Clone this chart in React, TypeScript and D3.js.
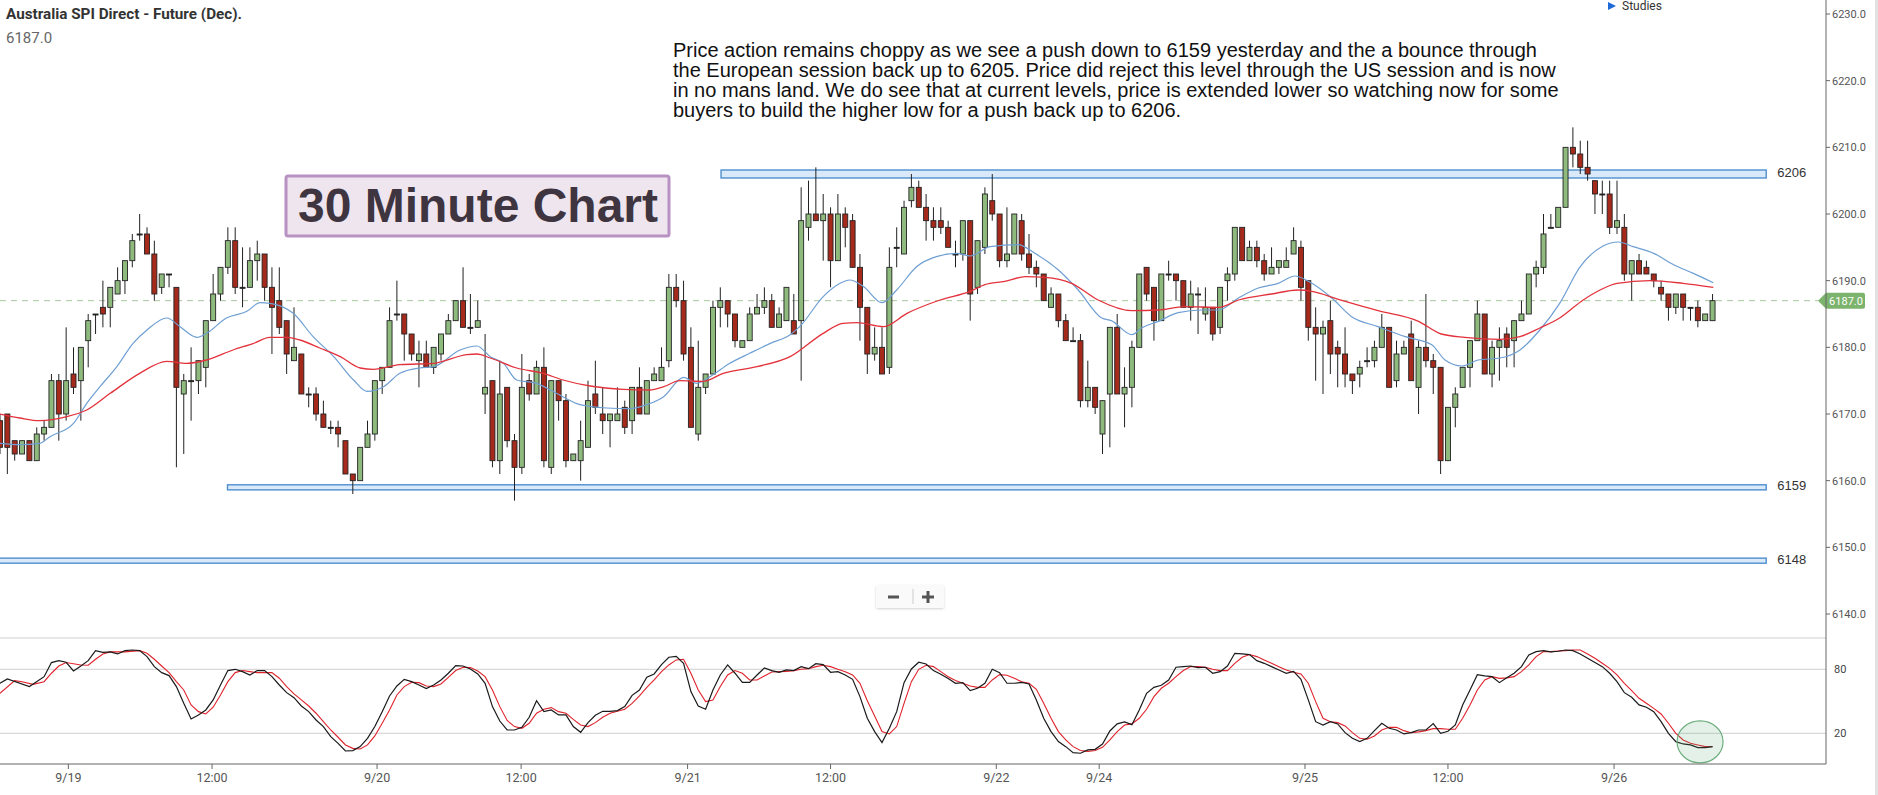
import React from "react";
import * as d3 from "d3";

// ---------- DATA ----------
const opens = [6169,6170,6166,6164,6166,6163,6167,6168,6175,6170,6176,6175,6181,6185,6186,6186,6188,6190,6193,6197,6197,6194,6189,6191,6189,6173,6175,6175,6177,6184,6188,6192,6196,6189,6189,6193,6194,6189,6187,6184,6178,6179,6173,6173,6170,6168,6168,6166,6161,6160,6165,6167,6175,6177,6185,6185,6182,6178,6179,6177,6179,6182,6184,6187,6183,6183,6173,6175,6163,6174,6166,6162,6175,6173,6177,6162,6175,6172,6163,6163,6165,6173,6170,6169,6169,6171,6169,6174,6170,6175,6175,6178,6189,6187,6180,6167,6174,6176,6186,6187,6185,6180,6181,6185,6186,6187,6183,6184,6184,6184,6198,6200,6199,6200,6193,6200,6199,6192,6186,6179,6180,6177,6195,6194,6202,6204,6201,6199,6199,6198,6194,6194,6199,6189,6195,6202,6200,6193,6194,6199,6194,6192,6191,6186,6188,6184,6181,6181,6172,6174,6167,6173,6183,6173,6174,6180,6192,6189,6184,6191,6191,6190,6186,6188,6185,6186,6183,6190,6191,6198,6193,6195,6193,6191,6192,6192,6194,6195,6190,6183,6182,6184,6180,6179,6176,6176,6178,6178,6180,6183,6175,6179,6182,6174,6180,6178,6177,6163,6171,6174,6177,6181,6185,6176,6180,6182,6181,6184,6185,6191,6192,6198,6198,6201,6210,6209,6207,6205,6203,6203,6198,6198,6191,6193,6192,6191,6189,6188,6186,6188,6186,6186,6184,6184];
const highs = [6170,6170,6166,6166,6166,6168,6169,6176,6176,6183,6180,6180,6185,6185,6190,6189,6192,6193,6197,6200,6198,6196,6191,6191,6189,6176,6180,6178,6184,6191,6192,6198,6198,6195,6195,6196,6194,6192,6192,6184,6186,6179,6174,6174,6172,6169,6169,6166,6161,6165,6169,6175,6177,6186,6190,6185,6182,6181,6181,6180,6182,6185,6187,6192,6188,6187,6182,6175,6178,6174,6167,6179,6176,6178,6180,6175,6175,6173,6164,6169,6175,6178,6174,6170,6174,6172,6174,6177,6175,6177,6180,6191,6191,6190,6183,6181,6176,6187,6189,6187,6185,6181,6186,6188,6189,6188,6186,6189,6188,6204,6205,6207,6203,6201,6203,6201,6200,6194,6186,6183,6183,6195,6198,6202,6206,6205,6203,6201,6201,6199,6196,6199,6199,6196,6204,6206,6200,6201,6200,6200,6197,6193,6191,6189,6188,6185,6183,6182,6178,6174,6172,6183,6185,6177,6181,6191,6192,6189,6191,6193,6191,6190,6190,6189,6189,6186,6189,6192,6198,6198,6196,6196,6194,6195,6193,6195,6198,6196,6190,6186,6184,6187,6181,6183,6176,6178,6180,6181,6185,6183,6181,6181,6184,6181,6188,6179,6177,6171,6174,6177,6181,6187,6185,6181,6183,6183,6184,6187,6191,6193,6200,6200,6201,6210,6213,6211,6211,6205,6205,6205,6205,6200,6193,6194,6193,6191,6190,6188,6188,6188,6186,6187,6185,6188];
const lows = [6164,6161,6163,6164,6163,6163,6166,6168,6166,6169,6173,6169,6177,6182,6183,6183,6188,6188,6192,6196,6194,6187,6188,6189,6162,6164,6169,6173,6174,6184,6187,6191,6188,6186,6189,6190,6187,6179,6182,6176,6178,6173,6171,6169,6168,6167,6165,6161,6158,6160,6165,6166,6173,6177,6184,6178,6178,6174,6177,6176,6178,6182,6184,6183,6182,6183,6170,6162,6161,6165,6157,6161,6172,6173,6162,6161,6169,6162,6163,6160,6165,6170,6167,6165,6169,6167,6167,6170,6170,6175,6175,6177,6186,6178,6168,6166,6173,6176,6183,6183,6180,6180,6181,6185,6185,6183,6183,6184,6182,6175,6196,6199,6193,6189,6193,6195,6192,6181,6176,6178,6176,6176,6192,6194,6201,6201,6196,6196,6197,6195,6192,6193,6184,6188,6194,6199,6192,6192,6194,6193,6191,6189,6187,6186,6183,6181,6181,6171,6171,6170,6164,6165,6173,6168,6171,6180,6187,6181,6184,6190,6187,6186,6184,6182,6184,6181,6182,6187,6190,6193,6193,6192,6190,6191,6191,6192,6194,6187,6181,6175,6173,6176,6174,6174,6173,6174,6177,6177,6180,6174,6174,6179,6175,6170,6177,6173,6161,6163,6168,6174,6174,6181,6176,6174,6175,6177,6177,6184,6185,6189,6191,6198,6198,6201,6207,6206,6205,6200,6200,6197,6197,6190,6187,6191,6191,6189,6187,6184,6185,6184,6184,6183,6184,6184];
const closes = [6165,6165,6164,6166,6163,6167,6168,6175,6170,6175,6174,6180,6184,6185,6185,6189,6190,6193,6196,6197,6194,6188,6191,6191,6174,6175,6175,6178,6184,6188,6192,6196,6189,6189,6193,6194,6189,6186,6183,6179,6180,6173,6173,6170,6168,6168,6167,6161,6160,6165,6167,6175,6177,6184,6185,6182,6179,6179,6177,6180,6182,6184,6187,6183,6183,6184,6174,6163,6173,6166,6162,6174,6173,6177,6163,6175,6172,6163,6164,6166,6172,6171,6169,6170,6170,6168,6174,6170,6175,6176,6177,6189,6187,6179,6168,6174,6176,6186,6187,6185,6181,6181,6185,6186,6187,6183,6185,6189,6182,6199,6200,6199,6200,6193,6200,6198,6192,6186,6179,6180,6176,6192,6195,6201,6204,6201,6199,6198,6198,6195,6194,6199,6188,6196,6203,6200,6193,6194,6200,6194,6192,6191,6187,6188,6184,6181,6181,6172,6174,6171,6172,6183,6173,6174,6180,6191,6188,6184,6191,6191,6190,6186,6188,6188,6186,6182,6189,6191,6198,6193,6195,6193,6191,6192,6193,6193,6196,6189,6183,6182,6183,6179,6179,6176,6175,6177,6178,6180,6183,6174,6179,6180,6175,6180,6178,6177,6163,6171,6173,6177,6181,6185,6176,6180,6181,6180,6184,6185,6191,6192,6197,6198,6201,6210,6209,6207,6206,6203,6203,6198,6199,6191,6193,6191,6191,6190,6188,6186,6188,6186,6186,6184,6185,6187];

// moving averages, read as [bar index, price]
const maFast = [[0,6165.6],[2.7,6165.4],[5.4,6165.6],[6.8,6166.6],[10,6168.6],[11.8,6171.6],[13.6,6174.1],[15.9,6177.1],[18.1,6180.6],[20,6182.6],[22.7,6184.4],[24.5,6183.1],[26.8,6181.5],[28.1,6182.1],[30.8,6184.4],[33.6,6185.4],[35.4,6186.7],[36.7,6186.6],[39.9,6185.1],[42.6,6181.6],[45.4,6178.6],[48.1,6175.1],[49.9,6173.4],[52.2,6174.1],[54.4,6176.1],[57.1,6176.9],[59,6177.1],[62.6,6179.6],[64.9,6180.2],[66.7,6178.6],[68.5,6177.6],[70.3,6175.1],[73,6174.6],[75.7,6173.1],[78.9,6171.4],[82.5,6170.9],[85.7,6170.8],[88,6171.4],[90.3,6172.6],[93,6175.5],[94.8,6174.6],[96.6,6175.6],[99.3,6177.6],[102,6179.1],[104.8,6180.6],[107.5,6181.9],[108.8,6183.1],[112,6187.6],[114.3,6189.6],[115.6,6190.1],[117.5,6189.1],[120,6186.7],[122,6188.6],[124.7,6192.1],[127.4,6193.6],[130.2,6194.1],[132,6193.7],[134.7,6195.1],[138.5,6195.4],[140.8,6194.1],[144,6191.6],[146.7,6188.6],[149.9,6184.4],[151.2,6184],[154,6181.9],[155.3,6182.9],[157.6,6183.9],[160.3,6185.2],[163.5,6185.6],[165.8,6185.6],[168.5,6187.4],[171.2,6188.9],[173.9,6189.6],[176.2,6190.7],[178,6189.9],[181.2,6187.4],[183.9,6184.6],[187.5,6183.1],[191.2,6181.6],[194.8,6180.4],[196.6,6178.1],[198.9,6177.2],[201.1,6178.1],[204.1,6178.4],[206.8,6179.6],[209.5,6182.6],[212.2,6186.6],[215,6192.1],[218.1,6195.2],[220.2,6195.8],[222.2,6195.1],[225,6194.1],[227.7,6192.4],[230.4,6191.1],[233.1,6189.7]];
const maSlow = [[0,6170],[2.7,6169.4],[5.4,6169],[9.1,6169.6],[11.8,6170.6],[15,6173.1],[19,6176.1],[22.7,6177.9],[25.4,6177.6],[28.1,6178.1],[31.7,6179.6],[34.5,6180.6],[36.7,6181.5],[39,6181.5],[40.8,6181.1],[43.5,6179.9],[46.3,6178.6],[49,6176.9],[50.8,6176.7],[54.4,6177.4],[59,6177.6],[63.5,6178.9],[64.9,6179],[66.7,6178.4],[70.3,6176.9],[73.9,6176.1],[76.6,6175.1],[80.3,6174.2],[84.8,6173.7],[88.4,6173.6],[90.3,6174.1],[92.5,6175],[95.7,6174.9],[98.4,6176.1],[103,6177.1],[107.5,6178.6],[112,6182.1],[114.7,6183.6],[116.6,6183.7],[120.2,6183.1],[123.4,6185.1],[127.9,6187.1],[132,6188.4],[134,6189.4],[136.7,6189.9],[139.5,6190.6],[142.2,6190.5],[145.8,6189.6],[149.4,6187.1],[154,6185.5],[157.6,6185.6],[161.2,6186.1],[165.8,6186],[168.5,6187.1],[173,6188],[176.6,6188.6],[178.5,6188.4],[182.1,6187.2],[187.5,6185.5],[193,6183.9],[196.1,6182],[199.3,6181.5],[204.1,6181.2],[206.8,6181.6],[209.5,6182.9],[212.2,6184.4],[215.4,6187.1],[217.7,6188.6],[220,6189.6],[224.5,6190],[229,6189.6],[233.1,6189]];

// stochastic %K and %D, read as [bar index, value]
const stochK = [[0,66.9],[1,70.9],[4,63.8],[6,73.1],[7,86.3],[8,88.1],[9,86.6],[10,78.4],[11,83.1],[12,88.1],[13,97.5],[14,95.9],[15,96.3],[16,94.4],[17,97.5],[18,98.1],[19,97.5],[20,91.9],[21,82.5],[22,76.9],[23,74.1],[24,63.8],[25,48.1],[26,33.4],[27,37.2],[28,41.9],[29,51.3],[30,65.3],[31,78.8],[32,80],[33,77.8],[34,74.7],[35,78.8],[36,78.8],[37,73.1],[38,65.3],[39,58.1],[40,53.4],[41,45.6],[42,40.3],[43,32.5],[44,26.3],[45,16.9],[46,10.6],[47,3.4],[48,3.8],[49,7.5],[50,15.3],[51,26.3],[52,40.3],[53,55],[54,64.4],[55,70.6],[56,68.4],[57,65.3],[58,61.9],[59,65.3],[60,70],[61,76.3],[62,83.4],[63,83.1],[64,80.3],[65,75.6],[66,66.9],[67,45],[68,31.5],[69,23.1],[70,23.1],[71,25.6],[72,35],[73,50.6],[74,40.3],[75,41.9],[76,37.2],[77,37.2],[78,26.3],[79,20.9],[80,30],[81,36.9],[82,40.6],[83,40.6],[84,41.3],[85,45],[86,55.6],[87,60.6],[88,72.5],[89,75.6],[90,84.4],[91,91.3],[92,92.2],[93,85.6],[94,59.1],[95,45.6],[96,42.5],[97,60.6],[98,74.7],[99,84.1],[100,76.3],[101,67.8],[102,67.8],[103,74.7],[104,81.3],[105,78.8],[106,77.2],[107,79.4],[108,78.8],[109,82.5],[110,80.6],[111,85.3],[112,84.4],[113,77.2],[114,77.8],[115,74.7],[116,70.6],[117,54.4],[118,34.1],[119,21.6],[120,11.3],[121,24.7],[122,40.3],[123,67.5],[124,80.3],[125,86.6],[126,85],[127,78.8],[128,75.3],[129,71.3],[130,66.9],[131,67.5],[132,60],[133,62.2],[134,66.9],[135,80],[136,76.9],[137,66.9],[138,66.9],[139,67.8],[140,66.3],[141,51.3],[142,34.1],[143,21.6],[144,12.2],[145,7.5],[146,1.9],[147,1.3],[148,4.4],[149,5],[150,10],[151,22.2],[152,28.8],[153,30.6],[154,28.1],[155,41.9],[156,57.5],[157,63.1],[158,65],[159,70],[160,81.9],[161,82.5],[162,83.1],[163,81.6],[164,81.9],[165,76.3],[166,77.8],[167,83.1],[168,95],[169,94.4],[170,93.8],[171,88.1],[172,85.6],[173,82.5],[174,79.4],[175,76.3],[176,78.1],[177,70.6],[178,51.3],[179,30.9],[180,27.8],[181,30.9],[182,28.8],[183,20.6],[184,15.3],[185,12.2],[186,15.3],[187,22.5],[188,29.4],[189,24.7],[190,23.1],[191,19.4],[192,20.6],[193,23.1],[194,23.1],[195,29.1],[196,20],[197,21.9],[198,27.8],[199,46.6],[200,60.6],[201,75],[202,73.8],[203,73.1],[204,67.5],[205,72],[206,76.3],[207,82.5],[208,93.4],[209,96.6],[210,97.5],[211,96.3],[212,96.9],[213,98.1],[214,97.5],[215,94.4],[216,90.3],[217,86.3],[218,82.5],[219,76.3],[220,68.4],[221,58.1],[222,53.8],[223,46.6],[224,44.4],[225,40.3],[226,30.9],[227,20],[228,12.2],[229,10],[230,9.1],[231,6.6],[232,6.6],[233,7.5]];
const stochD = [[0,57.5],[2,69.4],[3,68.4],[4.5,65.9],[6,68.4],[7,76.3],[8,83.1],[9,86.3],[11,84.1],[12,83.8],[13,89.4],[14,94.4],[15,96.3],[17,96.3],[19,97.5],[20,95],[21,89.4],[22,83.1],[23,76.9],[24,68.4],[25,60.6],[26,46.6],[27,40.3],[28,38.1],[29,44.4],[30,55.9],[31,68.4],[32,76.9],[33,78.8],[34,77.8],[35,76.9],[36,76.9],[37,76.9],[38,71.6],[39,63.8],[40,56.9],[41,51.3],[42,45.6],[43,38.8],[44,30.9],[45,23.1],[46,16.3],[47,9.1],[48,5.9],[49,5.3],[50,9.1],[51,17.5],[52,29.4],[53,41.9],[54,55.9],[55,63.8],[56,67.8],[57,67.5],[58,64.4],[59,63.8],[60,66.3],[61,72.5],[62,78.8],[63,81.9],[64,81.6],[65,78.4],[66,73.1],[67,60.6],[68,45],[69,32],[70,26.3],[71,24.7],[72,29.4],[73,38.8],[74,42.5],[75,44.1],[76,40.3],[77,38.8],[78,33.1],[79,27.8],[80,26.3],[81,30],[82,35],[83,38.8],[84,40.6],[85,42.5],[86,48.1],[87,55],[88,63.1],[89,70],[90,77.8],[91,84.1],[92,88.8],[93,89.4],[94,76.3],[95,60.6],[96,49.7],[97,51.3],[98,63.8],[99,74.7],[100,78.8],[101,76.3],[102,70],[103,70],[104,73.8],[105,77.5],[106,77.8],[107,78.1],[108,78.8],[109,80],[110,80.6],[111,82.5],[112,83.8],[113,82.5],[114,80],[115,77.8],[116,74.7],[117,66.9],[118,50.6],[119,36.3],[120,21.6],[121,19.4],[122,26.3],[123,48.1],[124,68.4],[125,80],[126,83.8],[127,82.5],[128,77.8],[129,73.1],[130,69.4],[131,66.9],[132,64.4],[133,63.1],[134,63.1],[135,70],[136,75],[137,74.5],[138,71.6],[139,68.4],[140,66.9],[141,61.3],[142,48.1],[143,34.1],[144,21.6],[145,13.8],[146,7.5],[147,3.8],[148,3.1],[149,3.8],[150,6.9],[151,13.8],[152,21.6],[153,27.8],[154,28.8],[155,34.1],[156,42.5],[157,54.4],[158,62.2],[159,66.9],[160,73.1],[161,78.8],[162,82.5],[163,82.5],[164,81.9],[165,80],[166,78.8],[167,78.8],[168,85.6],[169,91.3],[170,93.8],[171,91.9],[172,88.8],[173,85.6],[174,82.5],[175,79.4],[176,77.2],[177,75.6],[178,66.9],[179,49.7],[180,34.1],[181,30.9],[182,30],[183,26.9],[184,20.6],[185,15.3],[186,14.4],[187,17.5],[188,23.1],[189,25.6],[190,25.6],[191,22.5],[192,20.6],[193,21.3],[194,22.5],[195,24.4],[196,24.4],[197,23.8],[198,23.8],[199,34.1],[200,46.6],[201,60.6],[202,70],[203,73.1],[204,71.5],[205,72],[206,73.1],[207,77.8],[208,84.1],[209,91.9],[210,96.6],[211,96.6],[212,97.2],[213,97.5],[214,98.1],[215,98.1],[216,94.4],[217,90.3],[218,85.6],[219,80.9],[220,74.7],[221,66.9],[222,60],[223,52.8],[224,48.1],[225,43.4],[226,38.1],[227,29.4],[228,20],[229,13.8],[230,10.6],[231,9.1],[232,7.5],[233,7.5]];

const timeTickIdx = [9.3, 28.85, 51.3, 70.9, 93.55, 113, 135.55, 149.55, 177.55, 197, 219.6];
const timeTickLabels = ["9/19", "12:00", "9/20", "12:00", "9/21", "12:00", "9/22", "9/24", "9/25", "12:00", "9/26"];
const priceTicks = [6140, 6150, 6160, 6170, 6180, 6190, 6200, 6210, 6220, 6230];
const stochTicks = [20, 80];

const levelValues = [6206, 6159, 6148];
const levelHalf = [0.6, 0.38, 0.38];
const levelStartIdx = [98.1, 30.95, -1];
const levelEndIdx = 240.3;

const lastPrice = 6187.0;
const titleText = "Australia SPI Direct - Future (Dec).";
const annotation = [
  "Price action remains choppy as we see a push down to 6159 yesterday and the a bounce through",
  "the European session back up to 6205. Price did reject this level through the US session and is now",
  "in no mans land. We do see that at current levels, price is extended lower so watching now for some",
  "buyers to build the higher low for a push back up to 6206.",
];
const highlightIdx = 231.3;
const highlightStoch = 12;

// ---------- LAYOUT ----------
const W = 1878, H = 795;
const AX = 1826; // right axis x
const BOTTOM = 764;
const STOCH_TOP = 638;

export default function App() {
  const n = closes.length;
  const x = d3.scaleLinear().domain([0, n - 1]).range([0, (n - 1) * 7.35]);
  const y = d3.scaleLinear().domain([6140, 6230]).range([614, 14]);
  const ys = d3.scaleLinear().domain([20, 80]).range([733.3, 669.3]);
  const bodyW = 5;

  const maLine = d3.line<number[]>().x(d => x(d[0])).y(d => y(d[1])).curve(d3.curveMonotoneX);
  const stLine = d3.line<number[]>().x(d => x(d[0])).y(d => ys(d[1]));

  const tagY = y(lastPrice);
  const fontAxis = "Roboto, 'Open Sans', sans-serif";

  return (
    <svg width={W} height={H} style={{ position: "absolute", left: 0, top: 0, background: "#fff" }}
      fontFamily="'Liberation Sans', Arial, sans-serif">
      <defs>
        <clipPath id="plotClip"><rect x={0} y={0} width={AX} height={STOCH_TOP} /></clipPath>
        <clipPath id="stClip"><rect x={0} y={STOCH_TOP} width={AX} height={BOTTOM - STOCH_TOP} /></clipPath>
        <filter id="shadow" x="-10%" y="-20%" width="120%" height="160%">
          <feDropShadow dx="0" dy="1" stdDeviation="1" floodColor="#000" floodOpacity="0.18" />
        </filter>
      </defs>
      <rect x={0} y={0} width={W} height={H} fill="#fff" />

      {/* title */}
      <text x={6} y={19} fontFamily="Roboto, sans-serif" fontWeight="bold" fontSize={15} fill="#333"
        textLength={236} lengthAdjust="spacingAndGlyphs">{titleText}</text>
      <text x={6} y={43} fontFamily="Roboto, sans-serif" fontSize={15} fill="#666">{lastPrice.toFixed(1)}</text>

      {/* studies */}
      <path d="M1608,2 L1616,6 L1608,10 Z" fill="#1d6ad8" />
      <text x={1622} y={10} fontFamily={fontAxis} fontSize={12} fill="#333">Studies</text>

      {/* annotation */}
      {annotation.map((t, i) => (
        <text key={i} x={673} y={57 + i * 20} fontSize={20} fill="#111">{t}</text>
      ))}

      {/* 30 minute chart label */}
      <rect x={286} y={176} width={383} height={60} fill="#efe5ef" stroke="#b792c2" strokeWidth={3} rx={2} />
      <text x={478} y={222} textAnchor="middle" fontWeight="bold" fontSize={48} fill="#3f3540">30 Minute Chart</text>

      {/* current price dashed line */}
      <line x1={0} x2={1818} y1={tagY} y2={tagY} stroke="#a9c6a0" strokeDasharray="6,5" strokeWidth={1} />

      {/* levels */}
      {levelValues.map((v, i) => (
        <g key={v}>
          <rect x={x(levelStartIdx[i])} y={y(v + levelHalf[i])} width={x(levelEndIdx) - x(levelStartIdx[i])}
            height={y(v - levelHalf[i]) - y(v + levelHalf[i])} fill="#d9e9fa" stroke="#4f8fcf" strokeWidth={1.4} />
          <text x={x(levelEndIdx) + 11} y={y(v) + 3} fontSize={13} fill="#333">{v}</text>
        </g>
      ))}

      {/* candles */}
      <g clipPath="url(#plotClip)">
        {closes.map((c, i) => {
          const o = opens[i];
          const hi = Math.max(highs[i], o, c);
          const lo = Math.min(lows[i], o, c);
          const up = c >= o;
          const top = y(Math.max(o, c));
          const bot = y(Math.min(o, c));
          const cx = x(i);
          return (
            <g key={i}>
              <line x1={cx} x2={cx} y1={y(hi)} y2={y(lo)} stroke="#222" strokeWidth={1} />
              <rect x={cx - bodyW / 2} y={top} width={bodyW} height={Math.max(bot - top, 1)}
                fill={o === c ? "#222" : up ? "#8fba7e" : "#a52a1c"} stroke="#222" strokeWidth={0.9} />
            </g>
          );
        })}
        <path d={maLine(maFast) || ""} fill="none" stroke="#6e9fd3" strokeWidth={1.2} />
        <path d={maLine(maSlow) || ""} fill="none" stroke="#e3323b" strokeWidth={1.3} />
      </g>

      {/* price tag */}
      <path d={`M${AX - 8},${tagY} L${AX},${tagY - 8} L${AX + 37},${tagY - 8} Q${AX + 39},${tagY - 8} ${AX + 39},${tagY - 6} L${AX + 39},${tagY + 6} Q${AX + 39},${tagY + 8} ${AX + 37},${tagY + 8} L${AX},${tagY + 8} Z`}
        fill="#7db46d" />
      <text x={AX + 20} y={tagY + 4} textAnchor="middle" fontFamily={fontAxis} fontSize={11} fill="#fff">{lastPrice.toFixed(1)}</text>

      {/* zoom buttons */}
      <g filter="url(#shadow)">
        <rect x={876} y={585} width={68} height={23} fill="#fafafa" rx={2} />
      </g>
      <line x1={913} x2={913} y1={589} y2={604} stroke="#ccc" />
      <rect x={888} y={595.5} width={11} height={3} fill="#555" />
      <rect x={922} y={595.5} width={12} height={3} fill="#555" />
      <rect x={926.5} y={591} width={3} height={12} fill="#555" />

      {/* stochastic panel */}
      <line x1={0} x2={AX} y1={STOCH_TOP} y2={STOCH_TOP} stroke="#cfcfcf" />
      {stochTicks.map(t => (
        <g key={t}>
          <line x1={0} x2={AX} y1={ys(t)} y2={ys(t)} stroke="#cfcfcf" />
          <text x={AX + 8} y={ys(t) + 4} fontFamily={fontAxis} fontSize={11} fill="#444">{t}</text>
        </g>
      ))}
      <g clipPath="url(#stClip)">
        <path d={stLine(stochD) || ""} fill="none" stroke="#e0222b" strokeWidth={1.1} />
        <path d={stLine(stochK) || ""} fill="none" stroke="#1a1a1a" strokeWidth={1.2} />
      </g>
      <ellipse cx={x(highlightIdx)} cy={ys(highlightStoch)} rx={23} ry={21} fill="rgba(90,170,110,0.16)" stroke="#6aae7d" strokeWidth={1.2} />

      {/* axes */}
      <line x1={AX} x2={AX} y1={0} y2={BOTTOM} stroke="#666" />
      <line x1={0} x2={AX} y1={BOTTOM} y2={BOTTOM} stroke="#666" />
      {priceTicks.map(p => (
        <g key={p}>
          <line x1={AX} x2={AX + 4} y1={y(p)} y2={y(p)} stroke="#666" />
          <text x={AX + 6} y={y(p) + 4} fontFamily={fontAxis} fontSize={11} fill="#555">{p.toFixed(1)}</text>
        </g>
      ))}
      {timeTickIdx.map((t, i) => (
        <g key={i}>
          <line x1={x(t)} x2={x(t)} y1={BOTTOM} y2={BOTTOM + 5} stroke="#666" />
          <text x={x(t)} y={782} textAnchor="middle" fontFamily={fontAxis} fontSize={12.5} fill="#555">{timeTickLabels[i]}</text>
        </g>
      ))}
      <rect x={1875} y={0} width={3} height={H} fill="#e2e2e2" />
    </svg>
  );
}
